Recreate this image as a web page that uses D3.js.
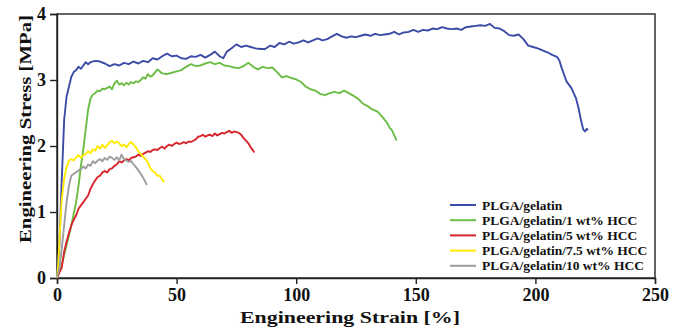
<!DOCTYPE html>
<html>
<head>
<meta charset="utf-8">
<script src="https://cdn.jsdelivr.net/npm/d3@7"></script>
<style>
  body { margin: 0; background: #fff; }
  text { font-family: "Liberation Serif", "Times New Roman", serif; font-weight: bold; fill: #111; }
</style>
</head>
<body>
<svg id="chart" width="682" height="329"></svg>
<script>
// series names, in legend order
const seriesNames = ["PLGA/gelatin", "PLGA/gelatin/1 wt% HCC", "PLGA/gelatin/5 wt% HCC",
    "PLGA/gelatin/7.5 wt% HCC", "PLGA/gelatin/10 wt% HCC"];
const seriesColors = ["#3b4ba6", "#6cbd45", "#d7252b", "#ffea00", "#9d9d9d"];

const xTicks = [0, 50, 100, 150, 200, 250];
const yTicks = [0, 1, 2, 3, 4];

// [strain %, stress MPa]
const plgaGelatin = [
    [0,0],[1,0.5],[2,1.5],[3,2.4],[4,2.75],[5,2.9],[6,3.05],[7,3.12],[8,3.15],[9,3.2],[10,3.17],
    [11,3.22],[12,3.27],[13,3.24],[14,3.27],[16,3.29],[18,3.28],[20,3.25],[22,3.21],[24,3.24],
    [26,3.22],[28,3.26],[30,3.24],[32,3.28],[34,3.25],[36,3.29],[38,3.27],[40,3.33],[42,3.31],
    [44,3.36],[46,3.4],[48,3.36],[50,3.37],[52,3.33],[54,3.32],[56,3.36],[58,3.35],[60,3.38],
    [62,3.34],[64,3.38],[66,3.43],[68,3.36],[69.5,3.33],[71,3.43],[73,3.48],[75,3.54],[77,3.5],
    [79,3.52],[81,3.5],[83,3.48],[85,3.47],[87,3.47],[89,3.52],[91,3.5],[93,3.56],[95,3.54],
    [97,3.58],[99,3.55],[101,3.57],[103,3.6],[105,3.57],[107,3.6],[109,3.63],[111,3.6],[113,3.62],
    [115,3.66],[117,3.7],[119,3.66],[121,3.64],[123,3.66],[125,3.65],[127,3.67],[129,3.69],
    [131,3.67],[133,3.7],[135,3.68],[137,3.69],[139,3.7],[141,3.73],[143,3.69],[145,3.72],
    [147,3.73],[149,3.76],[151,3.73],[153,3.76],[155,3.75],[157,3.78],[159,3.77],[161,3.8],
    [163,3.78],[165,3.77],[167,3.78],[169,3.76],[171,3.8],[173,3.81],[175,3.82],[177,3.83],
    [179,3.82],[181,3.85],[183,3.79],[185,3.78],[187,3.74],[189,3.68],[191,3.67],[193,3.69],
    [195,3.62],[197,3.52],[199,3.5],[201,3.48],[203,3.45],[205,3.42],[207,3.38],[209,3.35],
    [210,3.3],[211,3.18],[212,3.08],[213,2.98],[214,2.93],[215,2.88],[216,2.8],[217,2.72],
    [218,2.58],[219,2.4],[220,2.25],[220.7,2.22],[221.5,2.26],[222,2.24]
];
const hcc1 = [
    [0,0],[2,0.2],[4,0.5],[6,0.8],[8,1.15],[9,1.4],[10,1.7],[11,1.95],[12,2.25],[13,2.55],
    [14,2.72],[15,2.78],[16,2.8],[17,2.84],[18,2.83],[19,2.87],[20,2.86],[21,2.88],[22,2.9],
    [23,2.86],[24,2.95],[25,2.99],[26,2.93],[27,2.95],[28,2.92],[29,2.96],[30,2.93],[31,2.97],
    [32,2.95],[33,2.98],[34,2.97],[35,3.0],[36,3.04],[37,3.02],[38,3.09],[39,3.05],[40,3.07],
    [42,3.16],[44,3.1],[46,3.09],[48,3.11],[50,3.13],[52,3.15],[54,3.2],[56,3.24],[58,3.21],
    [60,3.22],[62,3.25],[64,3.27],[66,3.24],[68,3.26],[70,3.22],[72,3.21],[74,3.19],[76,3.18],
    [78,3.21],[80,3.26],[82,3.2],[84,3.16],[86,3.2],[88,3.18],[90,3.19],[92,3.12],[94,3.04],
    [96,3.06],[98,3.03],[100,3.01],[102,2.97],[104,2.9],[106,2.86],[108,2.84],[110,2.79],
    [112,2.77],[114,2.8],[116,2.82],[118,2.8],[120,2.84],[122,2.8],[124,2.76],[126,2.71],
    [128,2.64],[130,2.6],[132,2.55],[134,2.52],[136,2.44],[138,2.35],[139,2.28],[140,2.24],
    [141,2.16],[142,2.08]
];
const hcc5 = [
    [0,0],[1,0.08],[2,0.16],[3,0.4],[4,0.55],[5,0.68],[6,0.8],[7,0.88],[8,0.95],[9,1.05],
    [10,1.1],[11,1.15],[12,1.2],[13,1.25],[14,1.35],[15,1.42],[16,1.48],[17,1.53],[18,1.55],
    [19,1.6],[20,1.62],[21,1.6],[22,1.65],[23,1.66],[24,1.7],[25,1.72],[26,1.77],[27,1.75],
    [28,1.78],[29,1.8],[30,1.78],[31,1.82],[32,1.83],[33,1.84],[34,1.87],[35,1.85],[36,1.88],
    [37,1.9],[38,1.92],[39,1.91],[40,1.94],[41,1.95],[42,1.94],[43,1.97],[44,1.99],[45,1.96],
    [46,2.0],[47,2.02],[48,2.0],[49,2.03],[50,2.05],[51,2.03],[52,2.04],[53,2.06],[54,2.04],
    [55,2.07],[56,2.06],[57,2.08],[58,2.1],[59,2.14],[60,2.15],[61,2.17],[62,2.14],[63,2.16],
    [64,2.17],[65,2.15],[66,2.19],[67,2.16],[68,2.18],[69,2.2],[70,2.19],[71,2.21],[72,2.23],
    [73,2.2],[74,2.22],[75,2.21],[76,2.2],[77,2.17],[78,2.12],[79,2.08],[80,2.04],[81,1.98],
    [82,1.93],[82.5,1.9]
];
const hcc75 = [
    [0,0],[0.5,0.2],[1,0.55],[1.5,0.9],[2,1.2],[3,1.5],[4,1.68],[5,1.78],[6,1.8],[7,1.78],
    [8,1.83],[9,1.86],[10,1.82],[11,1.86],[12,1.88],[13,1.92],[14,1.89],[15,1.95],[16,1.93],
    [17,2.0],[18,1.96],[19,2.02],[20,1.97],[21,2.01],[22,2.06],[23,2.08],[24,2.04],[25,2.07],
    [26,2.04],[27,2.0],[28,2.02],[29,1.98],[30,2.03],[31,2.06],[32,2.02],[33,1.98],[34,1.92],
    [35,1.88],[36,1.84],[37,1.8],[38,1.75],[39,1.66],[40,1.62],[41,1.6],[42,1.55],[43,1.55],
    [44,1.49],[44.8,1.45]
];
const hcc10 = [
    [0,0],[1,0.15],[2,0.45],[3,0.8],[4,1.15],[5,1.4],[6,1.55],[7,1.58],[8,1.6],[9,1.63],
    [10,1.65],[11,1.69],[12,1.66],[13,1.72],[14,1.7],[15,1.77],[16,1.74],[17,1.78],[18,1.8],
    [19,1.77],[20,1.82],[21,1.79],[22,1.84],[23,1.82],[24,1.79],[25,1.83],[26,1.78],[27,1.87],
    [28,1.8],[29,1.78],[30,1.76],[31,1.77],[32,1.72],[33,1.68],[34,1.63],[35,1.58],[36,1.52],
    [37,1.45],[37.6,1.41]
];
const allSeries = [plgaGelatin, hcc1, hcc5, hcc75, hcc10];

const svg = d3.select("#chart");
const margin = { top: 14, right: 27, bottom: 51, left: 57 };
const width = 682, height = 329;

const x = d3.scaleLinear().domain([0, 250]).range([margin.left, width - margin.right]);
const y = d3.scaleLinear().domain([0, 4]).range([height - margin.bottom, margin.top]);

// frame
svg.append("rect")
    .attr("x", x(0)).attr("y", y(4))
    .attr("width", x(250) - x(0)).attr("height", y(0) - y(4))
    .attr("fill", "none").attr("stroke", "#222").attr("stroke-width", 1.4);

const xAxis = svg.append("g")
    .attr("transform", `translate(0,${y(0)})`)
    .call(d3.axisBottom(x).tickValues(xTicks).tickFormat(d3.format("d")).tickSize(6).tickPadding(4));
const yAxis = svg.append("g")
    .attr("transform", `translate(${x(0)},0)`)
    .call(d3.axisLeft(y).tickValues(yTicks).tickFormat(d3.format("d")).tickSize(7).tickPadding(4));

[xAxis, yAxis].forEach(g => {
    g.select(".domain").attr("stroke", "#222").attr("stroke-width", 1.4);
    g.selectAll(".tick line").attr("stroke", "#222").attr("stroke-width", 1.4);
    g.selectAll(".tick text")
        .style("font-family", '"Liberation Serif", "Times New Roman", serif')
        .style("font-weight", "bold")
        .style("font-size", "18px")
        .attr("fill", "#111");
});

svg.append("text")
    .attr("x", 350)
    .attr("y", 323)
    .attr("text-anchor", "middle")
    .attr("textLength", 220)
    .attr("lengthAdjust", "spacingAndGlyphs")
    .style("font-size", "17px")
    .text("Engineering Strain [%]");

svg.append("text")
    .attr("transform", "translate(31,129) rotate(-90)")
    .attr("text-anchor", "middle")
    .attr("textLength", 228)
    .attr("lengthAdjust", "spacingAndGlyphs")
    .style("font-size", "17px")
    .text("Engineering Stress [MPa]");

const line = d3.line().x(d => x(d[0])).y(d => y(d[1]));

allSeries.forEach((data, i) => {
    svg.append("path")
        .datum(data)
        .attr("fill", "none")
        .attr("stroke", seriesColors[i])
        .attr("stroke-width", 1.9)
        .attr("stroke-linejoin", "round")
        .attr("d", line);
});

// legend
const legend = svg.append("g").attr("transform", "translate(450,205)");
seriesNames.forEach((name, i) => {
    const row = legend.append("g").attr("transform", `translate(0,${i * 15.2})`);
    row.append("line")
        .attr("x1", 0).attr("x2", 26)
        .attr("stroke", seriesColors[i]).attr("stroke-width", 2);
    row.append("text")
        .attr("x", 32).attr("y", 4.5)
        .style("font-size", "13.5px")
        .text(name);
});
</script>
</body>
</html>
